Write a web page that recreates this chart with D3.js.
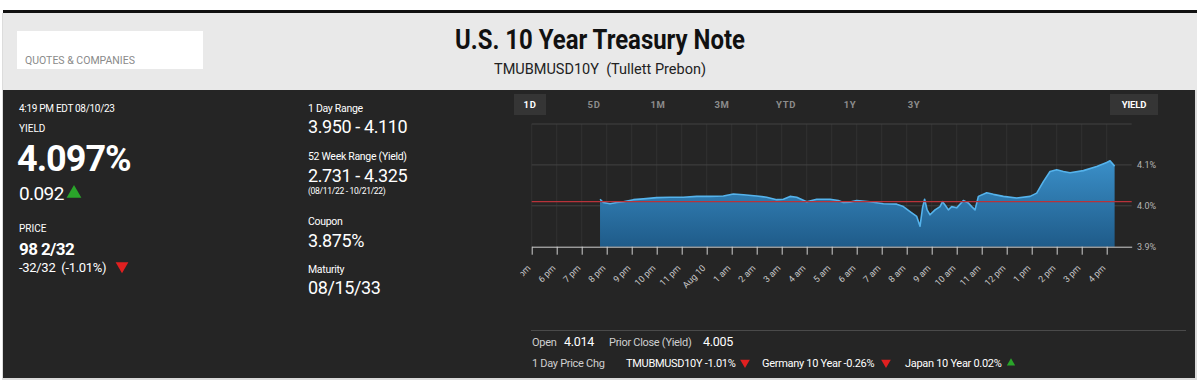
<!DOCTYPE html>
<html><head><meta charset="utf-8">
<script src="https://cdn.jsdelivr.net/npm/d3@7"></script>
<style>
body{margin:0;background:#fff;}
svg{display:block;font-family:Roboto,"Noto Sans",sans-serif;}
text{white-space:pre;}
</style>
</head><body>
<svg id="c" width="1200" height="382"></svg>
<script>
// ---- data ----
const times = [
 "2023-08-09 19:44","2023-08-09 19:52","2023-08-09 20:08","2023-08-09 20:24","2023-08-09 20:40",
 "2023-08-09 21:04","2023-08-09 21:28","2023-08-09 22:00","2023-08-09 22:32","2023-08-09 23:04",
 "2023-08-09 23:36","2023-08-10 00:08","2023-08-10 00:40","2023-08-10 01:04","2023-08-10 01:28",
 "2023-08-10 02:00","2023-08-10 02:24","2023-08-10 02:48","2023-08-10 03:04","2023-08-10 03:20",
 "2023-08-10 03:36","2023-08-10 04:00","2023-08-10 04:24","2023-08-10 04:56","2023-08-10 05:16",
 "2023-08-10 05:28","2023-08-10 05:44","2023-08-10 06:00","2023-08-10 06:32","2023-08-10 07:04",
 "2023-08-10 07:36","2023-08-10 07:52","2023-08-10 08:08","2023-08-10 08:24","2023-08-10 08:32",
 "2023-08-10 08:38","2023-08-10 08:43","2023-08-10 08:49","2023-08-10 08:56","2023-08-10 09:08",
 "2023-08-10 09:20","2023-08-10 09:26","2023-08-10 09:32","2023-08-10 09:40","2023-08-10 09:48",
 "2023-08-10 10:00","2023-08-10 10:16","2023-08-10 10:28","2023-08-10 10:36","2023-08-10 10:44",
 "2023-08-10 10:52","2023-08-10 11:12","2023-08-10 11:28","2023-08-10 11:52","2023-08-10 12:24",
 "2023-08-10 12:56","2023-08-10 13:12","2023-08-10 13:28","2023-08-10 13:44","2023-08-10 14:00",
 "2023-08-10 14:16","2023-08-10 14:32","2023-08-10 15:04","2023-08-10 15:36","2023-08-10 16:00",
 "2023-08-10 16:08","2023-08-10 16:19"
];
const yields = [
 4.016,4.008,4.005,4.008,4.010,
 4.015,4.017,4.020,4.021,4.021,
 4.023,4.023,4.024,4.029,4.027,
 4.024,4.021,4.015,4.016,4.023,
 4.021,4.010,4.016,4.016,4.013,
 4.008,4.009,4.013,4.010,4.005,
 4.004,3.998,3.986,3.974,3.950,
 3.995,4.016,3.990,3.978,3.990,
 3.998,4.010,4.002,3.990,3.998,
 3.995,4.013,4.007,3.998,3.990,
 4.023,4.032,4.028,4.023,4.019,
 4.023,4.031,4.059,4.084,4.088,
 4.084,4.081,4.086,4.096,4.106,
 4.110,4.097
];
const refLine = [4.010];
const yTicks = [3.9, 4.0, 4.1];
const yTickLabels = ["3.9%", "4.0%", "4.1%"];
const yGrid = [4.0, 4.1, 4.2];
const xDomain = ["2023-08-09 17:00", "2023-08-10 17:00"];
const tabs = ["1D","5D","1M","3M","YTD","1Y","3Y"];

const parse = d3.timeParse("%Y-%m-%d %H:%M");
const data = times.map((t,i)=>({t:parse(t), v:yields[i]}));

const svg = d3.select("#c");

// ---- frame ----
svg.append("rect").attr("x",2).attr("y",13).attr("width",1195).attr("height",367).attr("fill","#dcdcdc");
svg.append("rect").attr("x",3).attr("y",10).attr("width",1194).attr("height",3).attr("fill","#111");
svg.append("rect").attr("x",3).attr("y",13).attr("width",1194).attr("height",77).attr("fill","#e9e9e9");
svg.append("rect").attr("x",3).attr("y",90).attr("width",1192).attr("height",288).attr("fill","#252525");

// header
svg.append("rect").attr("x",17).attr("y",31).attr("width",186).attr("height",38).attr("fill","#fff");
svg.append("text").attr("x",25).attr("y",64).attr("font-size",10.5).attr("fill","#8a8a8a")
  .text("QUOTES & COMPANIES");
svg.append("text").attr("x",455).attr("y",48.5).attr("font-size",27).attr("font-weight",700)
  .attr("fill","#111").attr("textLength",290).attr("lengthAdjust","spacingAndGlyphs")
  .text("U.S. 10 Year Treasury Note");
svg.append("text").attr("x",600).attr("y",74).attr("font-size",14.5).attr("fill","#222")
  .attr("text-anchor","middle")
  .text("TMUBMUSD10Y  (Tullett Prebon)");

// ---- left panel ----
const L = svg.append("g").attr("fill","#fff");
L.append("text").attr("x",19).attr("y",112).attr("font-size",10).attr("letter-spacing",-0.3).text("4:19 PM EDT 08/10/23");
L.append("text").attr("x",19).attr("y",131.5).attr("font-size",10).text("YIELD");
L.append("text").attr("x",17).attr("y",170.5).attr("font-size",36).attr("font-weight",700).attr("letter-spacing",-1).text("4.097%");
L.append("text").attr("x",19).attr("y",200).attr("font-size",19).attr("letter-spacing",-0.6).text("0.092");
L.append("path").attr("d",d3.symbol(d3.symbolTriangle,95)()).attr("transform","translate(74,193.5)").attr("fill","#2aa52a");
L.append("text").attr("x",19).attr("y",232).attr("font-size",10).text("PRICE");
L.append("text").attr("x",19).attr("y",254.5).attr("font-size",17).attr("font-weight",700).attr("letter-spacing",-0.6).text("98 2/32");
L.append("text").attr("x",19).attr("y",272).attr("font-size",13).attr("letter-spacing",-0.3).text("-32/32  (-1.01%)");
L.append("path").attr("d",d3.symbol(d3.symbolTriangle,70)()).attr("transform","translate(122,266) rotate(180)").attr("fill","#e02020");

// middle column
const M = svg.append("g").attr("fill","#fff");
const mid = [
  ["1 Day Range",112,"3.950 - 4.110",133],
  ["52 Week Range (Yield)",160,"2.731 - 4.325",182],
  ["Coupon",225,"3.875%",247],
  ["Maturity",273,"08/15/33",294]
];
mid.forEach(r=>{
  M.append("text").attr("x",308).attr("y",r[1]).attr("font-size",10.5).attr("letter-spacing",-0.3).text(r[0]);
  M.append("text").attr("x",308).attr("y",r[3]).attr("font-size",18).attr("letter-spacing",-0.4).text(r[2]);
});
M.append("text").attr("x",308).attr("y",194).attr("font-size",8.5).attr("letter-spacing",-0.3).text("(08/11/22 - 10/21/22)");

// ---- chart tabs ----
const tabX = d3.scalePoint().domain(tabs).range([530, 914]);
svg.append("rect").attr("x",514).attr("y",94).attr("width",32).attr("height",21).attr("fill","#353535");
svg.selectAll(".tab").data(tabs).join("text").attr("class","tab")
  .attr("x",d=>tabX(d)).attr("y",107.5).attr("text-anchor","middle")
  .attr("font-size",9.5).attr("font-weight",700).attr("letter-spacing",0.6)
  .attr("fill",d=>d==="1D"?"#fff":"#8c8c8c").text(d=>d);
svg.append("rect").attr("x",1110).attr("y",94).attr("width",48).attr("height",21).attr("fill","#353535");
svg.append("text").attr("x",1134).attr("y",107.5).attr("text-anchor","middle").attr("font-size",9.5)
  .attr("font-weight",700).attr("fill","#fff").attr("letter-spacing",-0.2).text("YIELD");

// ---- chart ----
const x = d3.scaleTime().domain(xDomain.map(parse)).range([531.7, 1131.7]);
const y = d3.scaleLinear().domain([3.9, 4.2]).range([246.7, 124]);
const hours = d3.timeHour.range(parse(xDomain[0]), parse(xDomain[1]));

const defs = svg.append("defs");
const grad = defs.append("linearGradient").attr("id","ag").attr("gradientUnits","userSpaceOnUse")
  .attr("x1",0).attr("x2",0).attr("y1",y(4.11)).attr("y2",y(3.9));
grad.append("stop").attr("offset",0).attr("stop-color","#3a8fc8");
grad.append("stop").attr("offset",1).attr("stop-color","#1f5b89");

// gridlines
svg.append("g").selectAll("line").data(hours).join("line")
  .attr("x1",d=>x(d)).attr("x2",d=>x(d)).attr("y1",y(4.2)).attr("y2",y(3.9))
  .attr("stroke","#313131").attr("stroke-width",1);
svg.append("g").selectAll("line").data(yGrid).join("line")
  .attr("x1",x.range()[0]).attr("x2",x.range()[1]).attr("y1",d=>y(d)).attr("y2",d=>y(d))
  .attr("stroke","#424242").attr("stroke-width",1);

// area + line
svg.append("path").datum(data)
  .attr("d", d3.area().x(d=>x(d.t)).y0(y(3.9)).y1(d=>y(d.v)))
  .attr("fill","url(#ag)");
svg.append("path").datum(data)
  .attr("d", d3.line().x(d=>x(d.t)).y(d=>y(d.v)))
  .attr("fill","none").attr("stroke","#55b3ec").attr("stroke-width",1.6).attr("stroke-linejoin","round");

// reference line
svg.append("g").selectAll("line").data(refLine).join("line")
  .attr("x1",x.range()[0]).attr("x2",x.range()[1]).attr("y1",d=>y(d)).attr("y2",d=>y(d))
  .attr("stroke","#b8333a").attr("stroke-width",1.2);

// y labels
svg.append("g").selectAll("text").data(yTicks).join("text")
  .attr("x",1137).attr("y",d=>y(d)+3.5).attr("font-size",9).attr("fill","#b5b5b5")
  .text((d,i)=>yTickLabels[i]);

// x axis
const fmt = d => { const h=d.getHours(); return h===0 ? "Aug 10" : ((h%12)||12) + (h<12?" am":" pm"); };
const ax = svg.append("g").attr("transform",`translate(0,${y(3.9)})`)
  .call(d3.axisBottom(x).tickValues(hours).tickSize(8).tickSizeOuter(0).tickFormat(fmt));
ax.select(".domain").attr("stroke","#cfcfcf");
ax.selectAll(".tick line").attr("stroke","#cfcfcf");
ax.selectAll(".tick text").attr("x",0).attr("y",0).attr("dy",0)
  .attr("transform","translate(-1,22) rotate(-45)").attr("text-anchor","end")
  .attr("font-size",9).attr("fill","#c8c8c8").attr("font-family","Roboto,sans-serif");
ax.selectAll(".tick").filter((d,i)=>i===0).select("text").attr("clip-path","url(#lc0)");
defs.append("clipPath").attr("id","lc0").append("rect").attr("x",-11).attr("y",-30).attr("width",40).attr("height",60);

// ---- bottom info ----
svg.append("line").attr("x1",531).attr("x2",1186).attr("y1",330.5).attr("y2",330.5).attr("stroke","#4a4a4a");
const B = svg.append("g");
const lab = (xx,yy,t,c,fs)=>B.append("text").attr("x",xx).attr("y",yy).attr("font-size",fs).attr("fill",c).attr("letter-spacing",-0.3).text(t);
lab(532,346,"Open","#cfcfcf",11);
lab(564,346,"4.014","#fff",12.5);
lab(609,346,"Prior Close (Yield)","#cfcfcf",11);
lab(703,346,"4.005","#fff",12.5);
lab(532,367,"1 Day Price Chg","#cfcfcf",11);
lab(626,367,"TMUBMUSD10Y -1.01%","#fff",11);
B.append("path").attr("d",d3.symbol(d3.symbolTriangle,40)()).attr("transform","translate(745,362.5) rotate(180)").attr("fill","#e02020");
lab(762,367,"Germany 10 Year -0.26%","#fff",11);
B.append("path").attr("d",d3.symbol(d3.symbolTriangle,40)()).attr("transform","translate(886,362.5) rotate(180)").attr("fill","#e02020");
lab(905,367,"Japan 10 Year 0.02%","#fff",11);
B.append("path").attr("d",d3.symbol(d3.symbolTriangle,30)()).attr("transform","translate(1011,363)").attr("fill","#2aa52a");
</script>
</body></html>
